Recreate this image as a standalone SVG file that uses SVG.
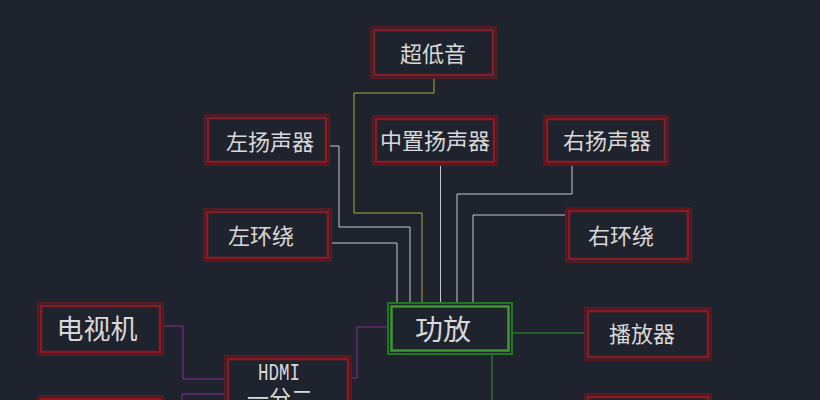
<svg xmlns="http://www.w3.org/2000/svg" width="820" height="400" viewBox="0 0 820 400">
<style>
.o{fill:none;stroke:#5a1a21;stroke-width:2}
.i{fill:none;stroke:#8a1b25;stroke-width:2.5}
.go{fill:none;stroke:#22761f;stroke-width:2}
.gi{fill:none;stroke:#3a9a2c;stroke-width:2.5}
.t{font-family:"Noto Sans CJK SC","Noto Sans",sans-serif;font-size:22px;fill:#d9d9d9;text-anchor:middle;dominant-baseline:central}
.w{fill:none;stroke:#c9c9cc;stroke-width:1}
.y{fill:none;stroke:#a9ad45;stroke-width:1}
.g{fill:none;stroke:#2f9a2a;stroke-width:1}
.p{fill:none;stroke:#8e2a9a;stroke-width:1}
</style>
<rect width="820" height="400" fill="#1f232d"/>
<g id="connectors">
<polyline class="y" points="434,79 434,93 354,93 354,213 422,213 422,302"/>
<polyline class="w" points="330,146 339,146 339,227 410,227 410,302"/>
<polyline class="w" points="332,243 397,243 397,302"/>
<polyline class="w" points="440.5,166 440.5,302"/>
<polyline class="w" points="572,166 572,194 457,194 457,302"/>
<polyline class="w" points="565,215 473,215 473,302"/>
<polyline class="g" points="513,333 584,333"/>
<polyline class="g" points="492,355 492,400"/>
<polyline class="p" points="164,326 183,326 183,379 224,379"/>
<polyline class="p" points="182,402 182,394 224,394"/>
<polyline class="p" points="352,378 357,378 357,327 387,327"/>
</g>
<g id="subwoofer"><rect class="o" x="371" y="27" width="125" height="51"/><rect class="i" x="374" y="30" width="119" height="45"/><text class="t" x="433" y="52">超低音</text></g>
<g id="left-speaker"><rect class="o" x="205" y="115" width="124" height="50"/><rect class="i" x="208" y="118" width="118" height="44"/><text class="t" x="270" y="140">左扬声器</text></g>
<g id="center-speaker"><rect class="o" x="373" y="116" width="124" height="49"/><rect class="i" x="376" y="119" width="118" height="43"/><text class="t" x="435" y="139">中置扬声器</text></g>
<g id="right-speaker"><rect class="o" x="544" y="116" width="124" height="49"/><rect class="i" x="547" y="119" width="118" height="43"/><text class="t" x="607" y="139">右扬声器</text></g>
<g id="left-surround"><rect class="o" x="204" y="209" width="127" height="52"/><rect class="i" x="207" y="212" width="121" height="46"/><text class="t" x="261" y="234">左环绕</text></g>
<g id="right-surround"><rect class="o" x="566" y="208" width="125" height="54"/><rect class="i" x="569" y="211" width="119" height="48"/><text class="t" x="621" y="234">右环绕</text></g>
<g id="tv"><rect class="o" x="38" y="303" width="125" height="52"/><rect class="i" x="41" y="306" width="119" height="46"/><text class="t" x="97" y="327" style="font-size:27px">电视机</text></g>
<g id="source2"><rect class="o" x="38" y="396" width="125" height="52"/><rect class="i" x="41" y="399" width="119" height="46"/></g>
<g id="hdmi-splitter"><rect class="o" x="225" y="356" width="126" height="60"/><rect class="i" x="228" y="359" width="120" height="54"/><text x="279" y="380" textLength="42" lengthAdjust="spacingAndGlyphs" style="font-family:'Liberation Mono',monospace;font-size:23px;fill:#d9d9d9;text-anchor:middle">HDMI</text><text x="280" y="406" style="font-family:'Noto Sans CJK SC',sans-serif;font-size:22px;fill:#d9d9d9;text-anchor:middle">一分二</text></g>
<g id="amplifier"><rect class="go" x="388" y="303" width="124" height="51"/><rect class="gi" x="391.5" y="306.5" width="117" height="44"/><text class="t" x="443" y="328" style="font-size:28px">功放</text></g>
<g id="player"><rect class="o" x="585" y="308" width="126" height="52"/><rect class="i" x="588" y="311" width="120" height="46"/><text class="t" x="642" y="332">播放器</text></g>
<g id="device2"><rect class="o" x="585" y="394" width="126" height="52"/><rect class="i" x="588" y="397" width="120" height="46"/></g>
</svg>
